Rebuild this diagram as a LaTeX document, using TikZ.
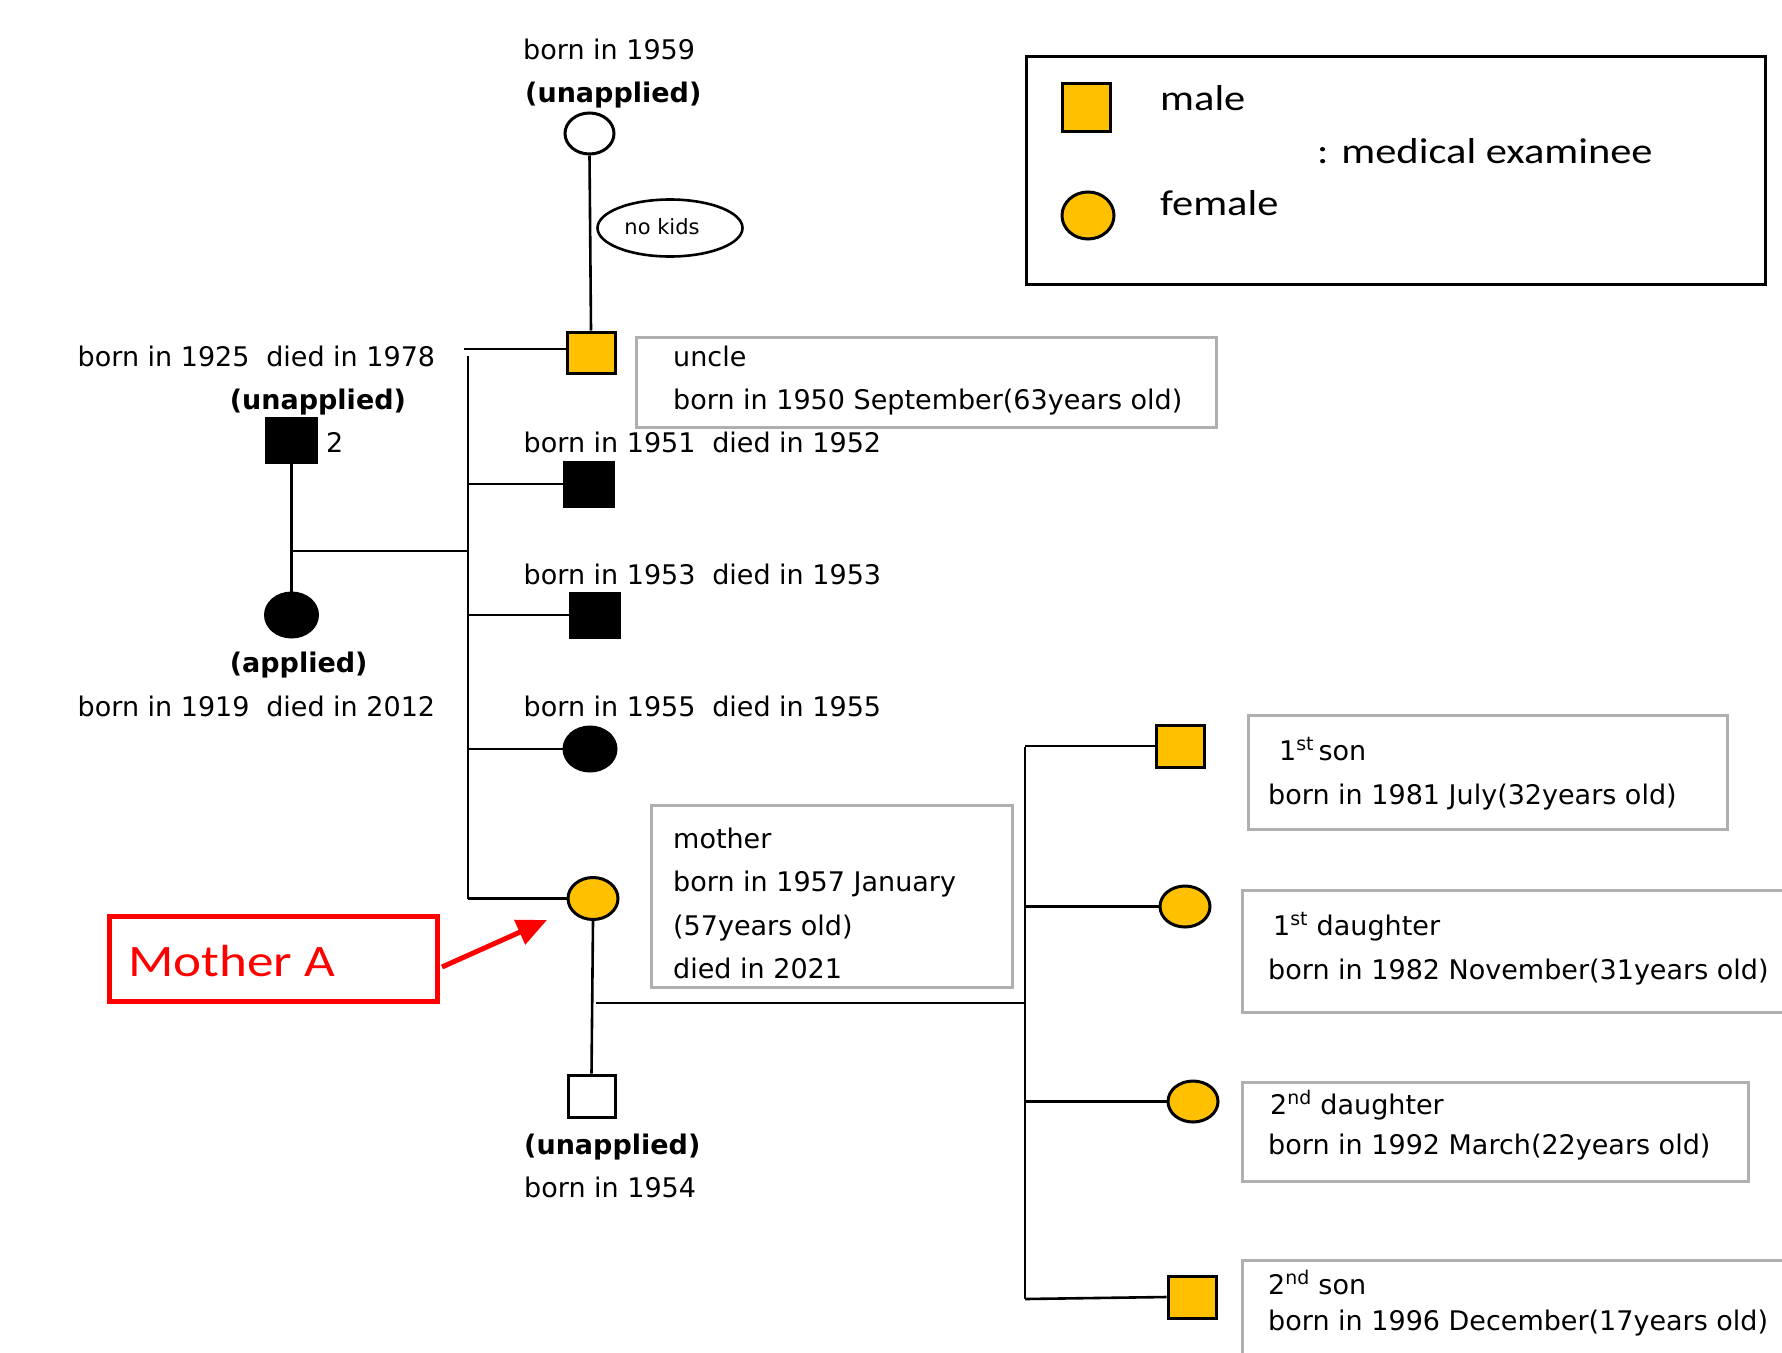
\documentclass[tikz,border=0pt]{standalone}
\usepackage{fontspec}
\setmainfont{DejaVu Sans}
\newfontfamily\legfont[FakeStretch=1.18]{Carlito}
\usetikzlibrary{shapes.geometric,arrows.meta}
\definecolor{exam}{HTML}{FFC000}
\definecolor{boxgray}{RGB}{175,175,175}
\tikzset{
  sq/.style={rectangle,draw=black,line width=3pt,minimum width=48pt,minimum height=42pt,inner sep=0pt},
  ci/.style={ellipse,draw=black,line width=3pt,minimum width=50pt,minimum height=42pt,inner sep=0pt},
  lbl/.style={anchor=base west,inner sep=0pt,font=\fontsize{27}{32}\selectfont},
  blbl/.style={anchor=base west,inner sep=0pt,font=\fontsize{27}{32}\selectfont\bfseries},
  leg/.style={anchor=base west,inner sep=0pt,font=\legfont\fontsize{36}{40}\selectfont},
  info/.style={rectangle,draw=boxgray,line width=3pt,anchor=north west,inner sep=0pt},
  link/.style={draw=black,line width=2.6pt},
}
\begin{document}
\begin{tikzpicture}[x=1pt,y=-1pt]
\useasboundingbox (0,0) rectangle (1782,1352);
\fill[white] (0,0) rectangle (1782,1352);

% legend
\node[rectangle,draw=black,line width=3pt,anchor=north west,minimum width=739pt,minimum height=228pt] (legend) at (1025,55) {};
\node[sq,fill=exam,minimum height=48pt] (legsq) at (1086.5,107.5) {};
\node[ci,fill=exam,minimum width=52pt,minimum height=47pt] (legci) at (1088,215.5) {};
\node[leg] (tmale) at (1160,110) {male};
\node[leg] (texam) at (1317,163) {: medical examinee};
\node[leg] (tfemale) at (1160,215) {female};

% information boxes
\node[info,minimum width=580pt,minimum height=90pt] (unclebox) at (635,336) {};
\node[info,minimum width=361pt,minimum height=182pt] (motherbox) at (650,804) {};
\node[info,minimum width=479pt,minimum height=114pt] (son1box) at (1247,714) {};
\node[info,minimum width=560pt,minimum height=122pt] (dau1box) at (1241,889) {};
\node[info,minimum width=506pt,minimum height=99pt] (dau2box) at (1241,1081) {};
\node[info,minimum width=560pt,minimum height=115pt] (son2box) at (1241,1259) {};

% symbols
\node[ci,fill=white,minimum width=49pt,minimum height=41pt] (topc) at (589.5,133.5) {};
\node[ellipse,draw=black,line width=2.6pt,minimum width=145pt,minimum height=57pt,inner sep=0pt] (nokids) at (670,228) {};
\node[inner sep=0pt,font=\fontsize{21}{24}\selectfont] (tnokids) at (662,227) {no kids};
\node[sq,fill=exam,minimum height=41pt] (uncle) at (591,352.5) {};
\node[sq,fill=black,minimum width=49pt,minimum height=44pt] (s1951) at (588.5,484) {};
\node[sq,fill=black,minimum width=49pt,minimum height=44pt] (s1953) at (594.5,615) {};
\node[ci,fill=black,minimum width=52pt,minimum height=44pt] (s1955) at (590,749) {};
\node[ci,fill=exam] (mother) at (593,898.5) {};
\node[sq,fill=white,minimum width=47pt] (husb) at (591.5,1096) {};
\node[sq,fill=black,minimum width=50pt,minimum height=44pt] (father) at (291.5,440) {};
\node[ci,fill=black,minimum width=52pt,minimum height=44pt] (gm) at (291.5,615) {};
\node[sq,fill=exam] (son1) at (1180,746) {};
\node[ci,fill=exam,minimum height=41pt] (dau1) at (1185,906.5) {};
\node[ci,fill=exam,minimum height=41pt] (dau2) at (1193,1101.5) {};
\node[sq,fill=exam] (son2) at (1192,1297) {};

% connectors
\coordinate (ub) at (464,349);
\coordinate (sbtop) at (468,356);
\coordinate (sbbot) at (468,898.5);
\coordinate (fm) at (291.5,551);
\coordinate (mh) at (596,1003);
\coordinate (cbtop) at (1025,747);
\coordinate (cbbot) at (1025,1299);
\draw[link] (topc.south) -- (uncle.north);
\draw[link] (ub) -- (ub -| uncle.west);
\draw[link] (sbtop) -- (sbbot);
\draw[link] (s1951.west) -- (s1951.west -| sbtop);
\draw[link] (s1953.west) -- (s1953.west -| sbtop);
\draw[link] (s1955.west) -- (s1955.west -| sbtop);
\draw[link] (mother.west) -- (sbbot);
\draw[link] (father.south) -- (gm.north);
\draw[link] (fm) -- (fm -| sbtop);
\draw[link] (mother.south) -- (husb.north);
\draw[link] (mh) -- (mh -| cbtop);
\draw[link] (cbtop) -- (cbbot);
\draw[link] (son1.west) -- (son1.west -| cbtop);
\draw[link] (dau1.west) -- (dau1.west -| cbtop);
\draw[link] (dau2.west) -- (dau2.west -| cbtop);
\draw[link] (son2.west) -- (cbbot);

% texts
\node[lbl] (t1959) at (523,59) {born in 1959};
\node[blbl] (tuna1) at (525,102) {(unapplied)};
\node[lbl] (tuncle) at (673,366) {uncle};
\node[lbl] (tuncleb) at (673,409) {born in 1950 September(63years old)};
\node[lbl] (tfather) at (77.5,366) {born in 1925\hspace{0.3em} died in 1978};
\node[blbl] (tuna2) at (229.6,409) {(unapplied)};
\node[lbl] (ttwo) at (326,452) {2};
\node[blbl] (tapp) at (229.6,672) {(applied)};
\node[lbl] (tgm) at (77.5,716) {born in 1919\hspace{0.3em} died in 2012};
\node[lbl] (t1951) at (523.5,452) {born in 1951\hspace{0.3em} died in 1952};
\node[lbl] (t1953) at (523.5,584) {born in 1953\hspace{0.3em} died in 1953};
\node[lbl] (t1955) at (523.5,716) {born in 1955\hspace{0.3em} died in 1955};
\node[lbl] (tm1) at (673,848) {mother};
\node[lbl] (tm2) at (673,891) {born in 1957 January};
\node[lbl] (tm3) at (673,935) {(57years old)};
\node[lbl] (tm4) at (673,978) {died in 2021};
\node[blbl] (tuna3) at (524,1154) {(unapplied)};
\node[lbl] (t1954) at (524,1197) {born in 1954};
\node[lbl] (ts1a) at (1279,760) {1\textsuperscript{st}\,son};
\node[lbl] (ts1b) at (1268,804) {born in 1981 July(32years old)};
\node[lbl] (td1a) at (1273,935) {1\textsuperscript{st} daughter};
\node[lbl] (td1b) at (1268,979) {born in 1982 November(31years old)};
\node[lbl] (td2a) at (1270,1114) {2\textsuperscript{nd} daughter};
\node[lbl] (td2b) at (1268,1154) {born in 1992 March(22years old)};
\node[lbl] (ts2a) at (1268,1294) {2\textsuperscript{nd} son};
\node[lbl] (ts2b) at (1268,1330) {born in 1996 December(17years old)};

% Mother A
\node[rectangle,draw=red,line width=4.5pt,anchor=north west,minimum width=328pt,minimum height=85pt] (motherA) at (107,914) {};
\node[anchor=base west,inner sep=0pt,text=red,font=\legfont\fontsize{45}{50}\selectfont] (tmotherA) at (128,976) {Mother A};
\coordinate (arrs) at (442,967);
\coordinate (arre) at (547,920);
\draw[red,line width=5pt,-{Triangle[length=30pt,width=26pt]}] (arrs) -- (arre);
\end{tikzpicture}
\end{document}
